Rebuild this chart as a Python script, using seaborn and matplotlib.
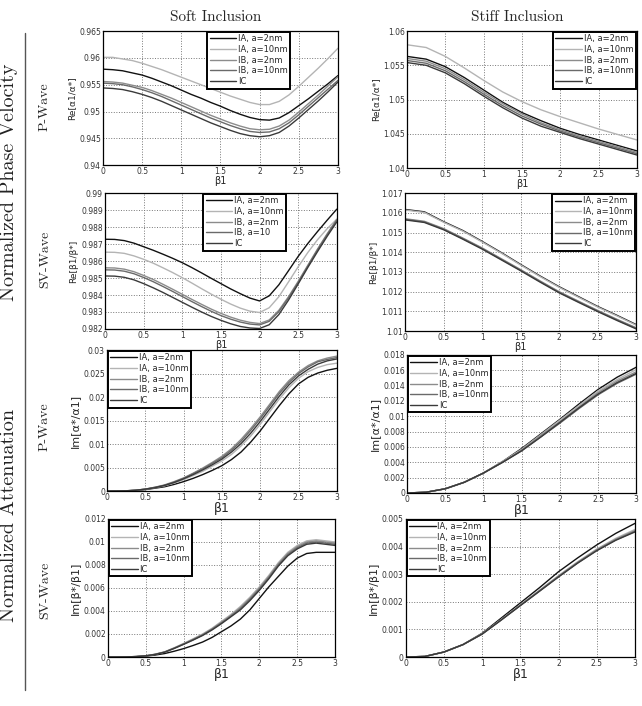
import numpy as np
import pandas as pd
import matplotlib
matplotlib.use("Agg")
import matplotlib.pyplot as plt
import seaborn as sns

sns.set_style("white")
plt.rcParams['font.family'] = ['DejaVu Sans']

x_fine = [0, 0.125, 0.25, 0.375, 0.5, 0.625, 0.75, 0.875, 1.0, 1.125, 1.25, 1.375, 1.5,
          1.625, 1.75, 1.875, 2.0, 2.125, 2.25, 2.375, 2.5, 2.625, 2.75, 2.875, 3.0]
x_coarse = [0, 0.25, 0.5, 0.75, 1.0, 1.25, 1.5, 1.75, 2.0, 2.25, 2.5, 2.75, 3.0]
series = ["IA, a=2nm", "IA, a=10nm", "IB, a=2nm", "IB, a=10nm", "IC"]

# Soft inclusion, P-wave phase velocity (x_fine)
soft_p_vel = {
    "IA, a=2nm":  [0.9579, 0.9578, 0.9576, 0.9572, 0.9568, 0.9562, 0.9555, 0.9548, 0.9540, 0.9532, 0.9525, 0.9517, 0.9510,
                   0.9502, 0.9495, 0.9489, 0.9485, 0.9484, 0.9488, 0.9498, 0.9511, 0.9524, 0.9538, 0.9552, 0.9567],
    "IA, a=10nm": [0.9601, 0.9601, 0.9598, 0.9595, 0.9590, 0.9584, 0.9578, 0.9571, 0.9564, 0.9557, 0.9550, 0.9543, 0.9536,
                   0.9529, 0.9523, 0.9517, 0.9513, 0.9513, 0.9519, 0.9531, 0.9547, 0.9564, 0.9581, 0.9599, 0.9618],
    "IB, a=2nm":  [0.9556, 0.9555, 0.9553, 0.9549, 0.9545, 0.9539, 0.9532, 0.9525, 0.9517, 0.9509, 0.9501, 0.9493, 0.9486,
                   0.9479, 0.9473, 0.9468, 0.9466, 0.9467, 0.9473, 0.9484, 0.9499, 0.9515, 0.9531, 0.9548, 0.9565],
    "IB, a=10nm": [0.9553, 0.9552, 0.9550, 0.9546, 0.9541, 0.9535, 0.9528, 0.9520, 0.9512, 0.9504, 0.9496, 0.9488, 0.9481,
                   0.9474, 0.9468, 0.9463, 0.9461, 0.9462, 0.9468, 0.9479, 0.9494, 0.9510, 0.9526, 0.9542, 0.9558],
    "IC":         [0.9544, 0.9543, 0.9541, 0.9537, 0.9532, 0.9526, 0.9519, 0.9511, 0.9503, 0.9495, 0.9487, 0.9479, 0.9472,
                   0.9465, 0.9459, 0.9455, 0.9453, 0.9455, 0.9461, 0.9473, 0.9488, 0.9504, 0.9520, 0.9537, 0.9555],
}
# Stiff inclusion, P-wave phase velocity (x_coarse)
stiff_p_vel = {
    "IA, a=2nm":  [1.0563, 1.0559, 1.0548, 1.0532, 1.0514, 1.0496, 1.0481, 1.0469, 1.0458, 1.0449, 1.0441, 1.0433, 1.0425],
    "IA, a=10nm": [1.0580, 1.0576, 1.0563, 1.0546, 1.0528, 1.0511, 1.0497, 1.0485, 1.0475, 1.0466, 1.0457, 1.0449, 1.0441],
    "IB, a=2nm":  [1.0560, 1.0556, 1.0545, 1.0529, 1.0511, 1.0494, 1.0479, 1.0466, 1.0456, 1.0447, 1.0439, 1.0431, 1.0423],
    "IB, a=10nm": [1.0557, 1.0553, 1.0542, 1.0526, 1.0508, 1.0491, 1.0476, 1.0464, 1.0454, 1.0445, 1.0437, 1.0429, 1.0421],
    "IC":         [1.0554, 1.0550, 1.0539, 1.0523, 1.0505, 1.0488, 1.0473, 1.0461, 1.0452, 1.0443, 1.0435, 1.0427, 1.0419],
}
# Soft inclusion, SV-wave phase velocity (x_fine)
soft_sv_vel = {
    "IA, a=2nm":  [0.98728, 0.98727, 0.98720, 0.98705, 0.98684, 0.98663, 0.98640, 0.98616, 0.98590, 0.98561, 0.98530, 0.98498, 0.98467,
                   0.98436, 0.98408, 0.98382, 0.98365, 0.98395, 0.98460, 0.98543, 0.98627, 0.98703, 0.98773, 0.98840, 0.98905],
    "IA, a=10nm": [0.98652, 0.98651, 0.98645, 0.98630, 0.98610, 0.98587, 0.98560, 0.98532, 0.98502, 0.98470, 0.98437, 0.98405, 0.98375,
                   0.98347, 0.98323, 0.98305, 0.98297, 0.98325, 0.98390, 0.98477, 0.98566, 0.98650, 0.98725, 0.98790, 0.98846],
    "IB, a=2nm":  [0.98560, 0.98559, 0.98552, 0.98537, 0.98515, 0.98491, 0.98463, 0.98434, 0.98404, 0.98374, 0.98345, 0.98317, 0.98292,
                   0.98270, 0.98252, 0.98239, 0.98232, 0.98253, 0.98310, 0.98390, 0.98480, 0.98575, 0.98670, 0.98760, 0.98845],
    "IB, a=10nm": [0.98548, 0.98547, 0.98540, 0.98525, 0.98503, 0.98478, 0.98450, 0.98421, 0.98391, 0.98361, 0.98332, 0.98304, 0.98279,
                   0.98258, 0.98241, 0.98229, 0.98224, 0.98245, 0.98302, 0.98383, 0.98474, 0.98570, 0.98665, 0.98755, 0.98840],
    "IC":         [0.98512, 0.98511, 0.98504, 0.98489, 0.98467, 0.98442, 0.98415, 0.98386, 0.98357, 0.98328, 0.98300, 0.98274, 0.98251,
                   0.98231, 0.98215, 0.98206, 0.98203, 0.98225, 0.98285, 0.98370, 0.98465, 0.98562, 0.98655, 0.98745, 0.98830],
}
# Stiff inclusion, SV-wave phase velocity (x_coarse)
stiff_sv_vel = {
    "IA, a=2nm":  [1.01617, 1.01605, 1.01555, 1.01510, 1.01455, 1.01398, 1.01338, 1.01280, 1.01225, 1.01175, 1.01125, 1.01080, 1.01033],
    "IA, a=10nm": [1.01614, 1.01602, 1.01552, 1.01507, 1.01452, 1.01395, 1.01335, 1.01277, 1.01222, 1.01172, 1.01122, 1.01077, 1.01030],
    "IB, a=2nm":  [1.01570, 1.01557, 1.01520, 1.01472, 1.01422, 1.01367, 1.01312, 1.01255, 1.01200, 1.01152, 1.01105, 1.01060, 1.01017],
    "IB, a=10nm": [1.01567, 1.01554, 1.01517, 1.01469, 1.01419, 1.01364, 1.01309, 1.01252, 1.01197, 1.01149, 1.01102, 1.01057, 1.01014],
    "IC":         [1.01564, 1.01551, 1.01514, 1.01466, 1.01416, 1.01361, 1.01306, 1.01249, 1.01194, 1.01146, 1.01099, 1.01054, 1.01011],
}
# Soft inclusion, P-wave attenuation (x_fine)
soft_p_att = {
    "IA, a=2nm":  [0, 0.00001, 0.00003, 0.00012, 0.0003, 0.0006, 0.0009, 0.0014, 0.0020, 0.0027, 0.0035, 0.0044, 0.0054,
                   0.0067, 0.0083, 0.0104, 0.0128, 0.0155, 0.0182, 0.0207, 0.0228, 0.0242, 0.0251, 0.0257, 0.0261],
    "IA, a=10nm": [0, 0.00001, 0.00004, 0.00015, 0.0004, 0.0007, 0.0011, 0.0017, 0.0024, 0.0033, 0.0042, 0.0053, 0.0064,
                   0.0078, 0.0096, 0.0117, 0.0142, 0.0169, 0.0196, 0.0220, 0.0240, 0.0254, 0.0263, 0.0269, 0.0272],
    "IB, a=2nm":  [0, 0.00001, 0.00005, 0.00018, 0.0004, 0.0008, 0.0013, 0.0020, 0.0028, 0.0038, 0.0049, 0.0061, 0.0074,
                   0.0090, 0.0110, 0.0133, 0.0158, 0.0185, 0.0212, 0.0235, 0.0253, 0.0267, 0.0277, 0.0283, 0.0287],
    "IB, a=10nm": [0, 0.00001, 0.00005, 0.00017, 0.0004, 0.0008, 0.0012, 0.0019, 0.0027, 0.0037, 0.0047, 0.0059, 0.0071,
                   0.0087, 0.0106, 0.0129, 0.0154, 0.0181, 0.0208, 0.0231, 0.0250, 0.0264, 0.0275, 0.0280, 0.0284],
    "IC":         [0, 0.00001, 0.00005, 0.00016, 0.0004, 0.0007, 0.0012, 0.0018, 0.0026, 0.0035, 0.0045, 0.0056, 0.0068,
                   0.0083, 0.0101, 0.0123, 0.0148, 0.0175, 0.0202, 0.0226, 0.0245, 0.0259, 0.0270, 0.0277, 0.0281],
}
# Stiff inclusion, P-wave attenuation (x_coarse)
stiff_p_att = {
    "IA, a=2nm":  [0, 0.0001, 0.00055, 0.0014, 0.0026, 0.0041, 0.0058, 0.0077, 0.0096, 0.0116, 0.0135, 0.0151, 0.0164],
    "IA, a=10nm": [0, 0.0001, 0.00055, 0.0014, 0.0026, 0.0041, 0.0057, 0.0076, 0.0095, 0.0114, 0.0133, 0.0148, 0.0161],
    "IB, a=2nm":  [0, 0.0001, 0.00055, 0.0014, 0.0026, 0.0040, 0.0056, 0.0075, 0.0093, 0.0112, 0.0131, 0.0146, 0.0158],
    "IB, a=10nm": [0, 0.0001, 0.00055, 0.0014, 0.0026, 0.0040, 0.0055, 0.0073, 0.0091, 0.0110, 0.0128, 0.0143, 0.0155],
    "IC":         [0, 0.0001, 0.00055, 0.0014, 0.0026, 0.0040, 0.0055, 0.0073, 0.0092, 0.0111, 0.0129, 0.0144, 0.0156],
}
# Soft inclusion, SV-wave attenuation (x_fine)
soft_sv_att = {
    "IA, a=2nm":  [0, 0, 0.00001, 0.00003, 0.00008, 0.00017, 0.0003, 0.0005, 0.00073, 0.0010, 0.0013, 0.0017, 0.0022,
                   0.0027, 0.0033, 0.0041, 0.0051, 0.0061, 0.0070, 0.0079, 0.0086, 0.0090, 0.0091, 0.0091, 0.0091],
    "IA, a=10nm": [0, 0, 0.00001, 0.00004, 0.0001, 0.00025, 0.00045, 0.0008, 0.00118, 0.00158, 0.0020, 0.0025, 0.0031,
                   0.0037, 0.0044, 0.0052, 0.0061, 0.0071, 0.0082, 0.0091, 0.0097, 0.0101, 0.0102, 0.0101, 0.0100],
    "IB, a=2nm":  [0, 0, 0.00001, 0.00004, 0.0001, 0.00024, 0.00044, 0.00078, 0.00115, 0.00154, 0.00195, 0.00245, 0.00302,
                   0.00362, 0.0043, 0.0051, 0.0060, 0.0070, 0.0081, 0.0090, 0.0096, 0.0100, 0.0101, 0.0100, 0.0099],
    "IB, a=10nm": [0, 0, 0.00001, 0.00004, 0.0001, 0.00023, 0.00043, 0.00076, 0.00112, 0.0015, 0.0019, 0.0024, 0.00296,
                   0.00355, 0.0042, 0.0050, 0.0059, 0.0069, 0.0080, 0.0089, 0.0095, 0.0099, 0.0100, 0.0099, 0.0098],
    "IC":         [0, 0, 0.00001, 0.00004, 0.0001, 0.00022, 0.00042, 0.00074, 0.0011, 0.00147, 0.00187, 0.00235, 0.0029,
                   0.0035, 0.0041, 0.0049, 0.0058, 0.0068, 0.0079, 0.0088, 0.0094, 0.0098, 0.0099, 0.0098, 0.0097],
}
# Stiff inclusion, SV-wave attenuation (x_coarse)
stiff_sv_att = {
    "IA, a=2nm":  [0, 0.00002, 0.00018, 0.00045, 0.00086, 0.00141, 0.00196, 0.00251, 0.00309, 0.00359, 0.00406, 0.00448, 0.00484],
    "IA, a=10nm": [0, 0.00002, 0.00018, 0.00045, 0.00084, 0.00136, 0.00189, 0.00242, 0.00295, 0.00345, 0.00391, 0.00430, 0.00462],
    "IB, a=2nm":  [0, 0.00002, 0.00018, 0.00045, 0.00084, 0.00135, 0.00188, 0.00240, 0.00293, 0.00343, 0.00389, 0.00427, 0.00458],
    "IB, a=10nm": [0, 0.00002, 0.00018, 0.00045, 0.00083, 0.00134, 0.00187, 0.00239, 0.00291, 0.00341, 0.00386, 0.00424, 0.00455],
    "IC":         [0, 0.00002, 0.00018, 0.00045, 0.00083, 0.00134, 0.00186, 0.00238, 0.00290, 0.00340, 0.00385, 0.00423, 0.00453],
}

palette = {"IA, a=2nm": "#111111", "IA, a=10nm": "#b4b4b4", "IB, a=2nm": "#8c8c8c",
           "IB, a=10nm": "#6a6a6a", "IC": "#3a3a3a"}

def long_df(xs, d):
    rows = []
    for s in series:
        for xv, yv in zip(xs, d[s]):
            rows.append({"beta1": xv, "value": yv, "series": s})
    return pd.DataFrame(rows)

fig = plt.figure(figsize=(6.42, 7.06), dpi=100)

panels = [
    (x_fine, soft_p_vel,  [0.1604, 0.766, 0.366, 0.190], (0.94, 0.965), 0.005, "Re[α1/α*]", (0.80, 1.0), "upper right", None, 6.5),
    (x_coarse, stiff_p_vel, [0.634, 0.762, 0.358, 0.194], (1.04, 1.06), 0.005, "Re[α1/α*]", (1.0, 1.0), "upper right", None, 6.5),
    (x_fine, soft_sv_vel, [0.1636, 0.534, 0.361, 0.1926], (0.982, 0.99), 0.001, "Re[β1/β*]", (0.785, 1.0), "upper right",
     ["IA, a=2nm", "IA, a=10nm", "IB, a=2nm", "IB, a=10", "IC"], 6.5),
    (x_coarse, stiff_sv_vel, [0.631, 0.531, 0.360, 0.1955], (1.01, 1.017), 0.001, "Re[β1/β*]", (1.0, 1.0), "upper right", None, 6.5),
    (x_fine, soft_p_att,  [0.1667, 0.3045, 0.358, 0.1997], (0, 0.03), 0.005, "Im[α*/α1]", (0.0, 1.0), "upper left", None, 8),
    (x_coarse, stiff_p_att, [0.634, 0.3017, 0.357, 0.1955], (0, 0.018), 0.002, "Im[α*/α1]", (0.0, 1.0), "upper left", None, 8),
    (x_fine, soft_sv_att, [0.168, 0.0694, 0.354, 0.1955], (0, 0.012), 0.002, "Im[β*/β1]", (0.0, 1.0), "upper left", None, 8),
    (x_coarse, stiff_sv_att, [0.632, 0.0694, 0.357, 0.1955], (0, 0.005), 0.001, "Im[β*/β1]", (0.0, 1.0), "upper left", None, 8),
]

for i, (xs, d, rect, ylim, ystep, ylab, anchor, loc, labels, ysz) in enumerate(panels):
    ax = fig.add_axes(rect)
    df = long_df(xs, d)
    sns.lineplot(data=df, x="beta1", y="value", hue="series", hue_order=series,
                 palette=palette, ax=ax, legend=False, linewidth=1.0)
    ax.set_xlim(0, 3)
    ax.set_ylim(*ylim)
    ax.set_xticks([0, 0.5, 1, 1.5, 2, 2.5, 3])
    ax.set_xticklabels(["0", "0.5", "1", "1.5", "2", "2.5", "3"])
    yt = np.round(np.arange(ylim[0], ylim[1] + ystep / 2, ystep), 6)
    ax.set_yticks(yt)
    ax.set_yticklabels([("%g" % v) for v in yt])
    ax.grid(True, linestyle=":", color="#777777", linewidth=0.7)
    ax.tick_params(axis="both", labelsize=5.5, colors="#333333", direction="in", length=2, pad=1.5)
    for sp in ax.spines.values():
        sp.set_color("black")
        sp.set_linewidth(0.9)
    bottom = i >= 4
    ax.set_xlabel("β1", fontsize=9 if bottom else 7, labelpad=0)
    ax.set_ylabel(ylab, fontsize=ysz, labelpad=2)
    leg_labels = labels if labels is not None else series
    leg = ax.legend(ax.lines[:5], leg_labels, loc=loc, bbox_to_anchor=anchor, fontsize=6,
                    frameon=True, fancybox=False, borderaxespad=0.1, borderpad=0.3,
                    handlelength=3.2, handletextpad=0.2, labelspacing=0.2)
    leg.get_frame().set_edgecolor("black")
    leg.get_frame().set_linewidth(1.4)
    leg.get_frame().set_alpha(1)

serif = ["cmr10", "DejaVu Serif"]
fig.text(216 / 642, 1 - 17 / 706, "Soft Inclusion", family=serif, fontsize=11, ha="center", va="center")
fig.text(517 / 642, 1 - 17 / 706, "Stiff Inclusion", family=serif, fontsize=11, ha="center", va="center")
fig.text(9 / 642, 1 - 182 / 706, "Normalized Phase Velocity", family=serif, fontsize=14.5,
         rotation=90, ha="center", va="center", color="#222222")
fig.text(9 / 642, 1 - 515 / 706, "Normalized Attenuation", family=serif, fontsize=14.5,
         rotation=90, ha="center", va="center", color="#222222")
for yy, t in [(107, "P-Wave"), (259, "SV-Wave"), (427, "P-Wave"), (590, "SV-Wave")]:
    fig.text(45 / 642, 1 - yy / 706, t, family=serif, fontsize=10, rotation=90, ha="center", va="center")
fig.add_artist(plt.Line2D([25 / 642, 25 / 642], [1 - 33 / 706, 1 - 690 / 706], color="#555555", linewidth=1.0))

fig.savefig("out.png", dpi=100)
